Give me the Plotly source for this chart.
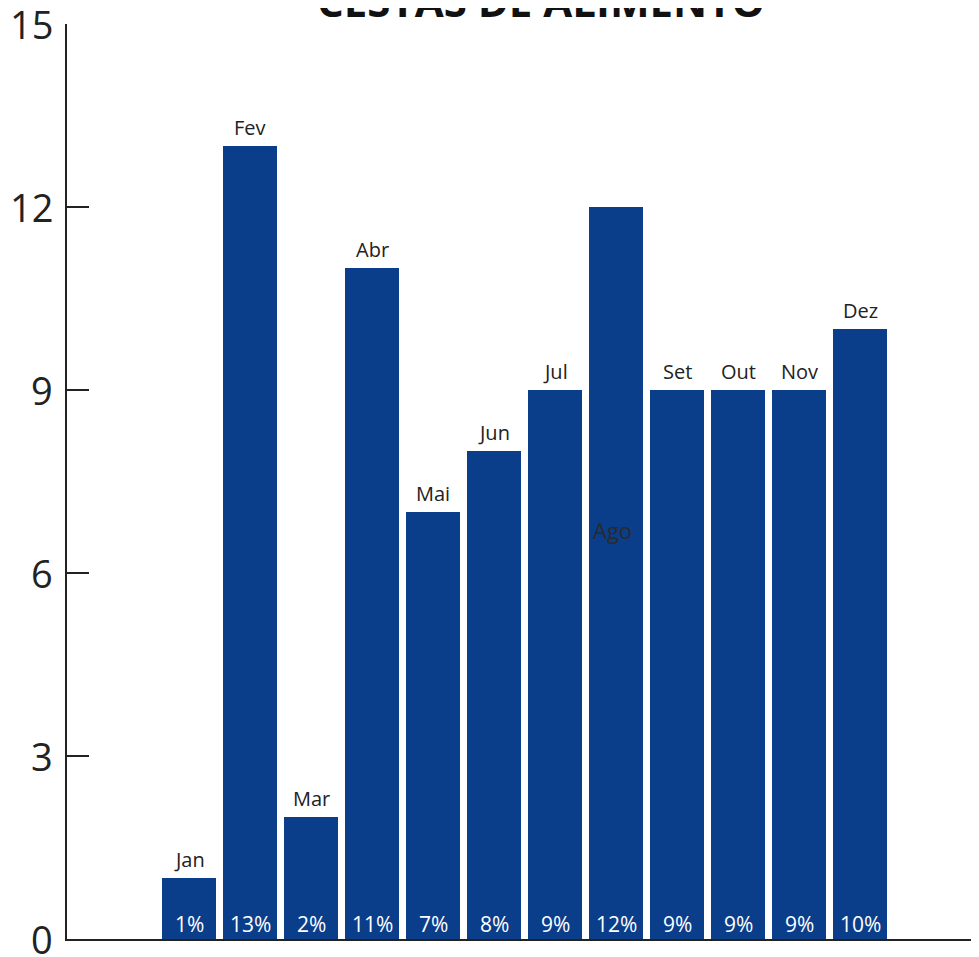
import plotly.graph_objects as go

months = ["Jan", "Fev", "Mar", "Abr", "Mai", "Jun", "Jul", "Ago", "Set", "Out", "Nov", "Dez"]
values = [1, 13, 2, 11, 7, 8, 9, 12, 9, 9, 9, 10]
percents = ["1%", "13%", "2%", "11%", "7%", "8%", "9%", "12%", "9%", "9%", "9%", "10%"]
title_text = "CESTAS DE ALIMENTO"
y_ticks = [0, 3, 6, 9, 12, 15]
ago_label_y = 6.7

x_pos = list(range(1, len(months) + 1))
BAR = "#0a3d8a"
FONT = "Open Sans, Noto Sans, sans-serif"

fig = go.Figure()
fig.add_trace(go.Bar(x=x_pos, y=values, width=0.9, marker=dict(color=BAR, line=dict(width=0)),
                     hoverinfo="skip"))

for x, v, m, p in zip(x_pos, values, months, percents):
    if m == "Ago":
        fig.add_annotation(x=x, y=ago_label_y, text=m, showarrow=False, xshift=-4,
                           font=dict(size=22, color="#2a2a2a", family=FONT))
    else:
        fig.add_annotation(x=x, y=v, text=m, showarrow=False, yanchor="bottom", yshift=3,
                           font=dict(size=20, color="#222222", family=FONT))
    fig.add_annotation(x=x, y=0, text=p, showarrow=False, yanchor="bottom", yshift=-1,
                       font=dict(size=21, color="white", family=FONT))

# y tick labels (drawn as annotations so the top one is not dropped at the page edge)
for t in y_ticks:
    fig.add_annotation(xref="paper", yref="y", x=0, y=t, text=str(t), showarrow=False,
                       xanchor="right", xshift=-12,
                       font=dict(size=38, color="#222222", family=FONT))

fig.add_annotation(xref="paper", yref="paper", x=0.52, y=1.0, yshift=24,
                   text="<b>" + title_text + "</b>", showarrow=False,
                   font=dict(size=42, color="#111111", family=FONT),
                   xanchor="center", yanchor="middle")

fig.update_layout(
    width=971, height=957,
    margin=dict(l=59, r=0, t=16, b=26, autoexpand=False),
    paper_bgcolor="white", plot_bgcolor="white",
    showlegend=False,
    bargap=0,
    xaxis=dict(range=[-1, 13.95], showticklabels=False, ticks="", showgrid=False, zeroline=False,
               showline=True, linecolor="#222222", linewidth=2, fixedrange=True, automargin=False),
    yaxis=dict(range=[0, 15], tickvals=y_ticks, showticklabels=False, ticks="inside", ticklen=22,
               tickwidth=1.5, tickcolor="#222222", showgrid=False, zeroline=False, showline=True,
               linecolor="#222222", linewidth=2, automargin=False),
)

fig.write_html("out.html")
